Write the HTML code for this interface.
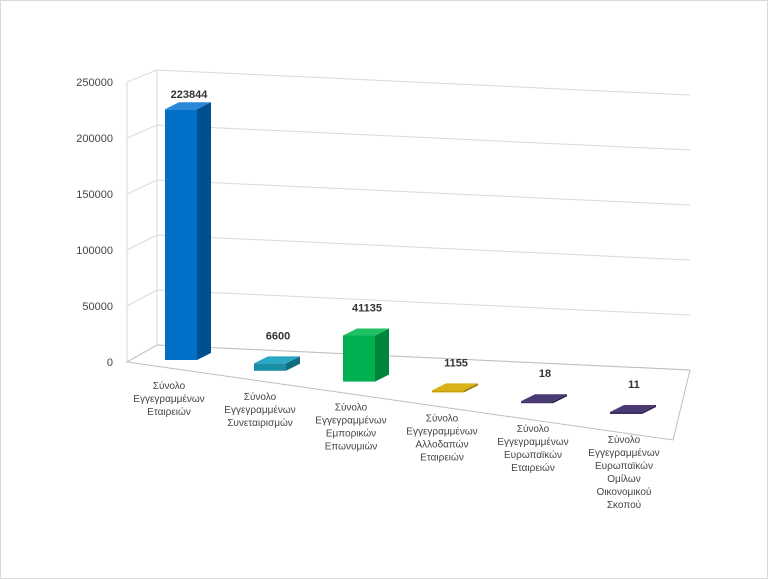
<!DOCTYPE html>
<html><head><meta charset="utf-8">
<style>
html,body{margin:0;padding:0;background:#fff;}
#wrap{position:relative;width:768px;height:579px;overflow:hidden;}
svg text{font-family:"Liberation Sans","DejaVu Sans",sans-serif;}
</style></head>
<body>
<div id="wrap">
<svg id="chart" width="768" height="579" viewBox="0 0 768 579">
<rect x="0.5" y="0.5" width="767" height="578" fill="#fff" stroke="#d9d9d9"/>
<g id="grid"></g>
<g id="bars"></g>
<g id="labels"></g>
</svg>
</div>
<script>
const categories = [
  ["Σύνολο","Εγγεγραμμένων","Εταιρειών"],
  ["Σύνολο","Εγγεγραμμένων","Συνεταιρισμών"],
  ["Σύνολο","Εγγεγραμμένων","Εμπορικών","Επωνυμιών"],
  ["Σύνολο","Εγγεγραμμένων","Αλλοδαπών","Εταιρειών"],
  ["Σύνολο","Εγγεγραμμένων","Ευρωπαϊκών","Εταιρειών"],
  ["Σύνολο","Εγγεγραμμένων","Ευρωπαϊκών","Ομίλων","Οικονομικού","Σκοπού"]
];
const values = [223844, 6600, 41135, 1155, 18, 11];
const yTicks = [0, 50000, 100000, 150000, 200000, 250000];
const yMax = 250000;

const NS = "http://www.w3.org/2000/svg";
function mk(tag, attrs, parent){const e=document.createElementNS(NS,tag);for(const k in attrs)e.setAttribute(k,attrs[k]);parent.appendChild(e);return e;}
const grid=document.getElementById('grid'), barsG=document.getElementById('bars'), labG=document.getElementById('labels');

// geometry
const FX=127, F0=362, F1=82;   // front axis
const BX=157, B0=345, B1=70;   // back wall left edge
const BR=690, slope=25/533;    // back wall right edge and slope
const pxPer=(F0-F1)/yMax;
function yFront(v){return F0-(F0-F1)*v/yMax;}
function yBack(v){return B0-(B0-B1)*v/yMax;}

// walls / gridlines
yTicks.forEach((t,i)=>{
  const yf=yFront(t), yb=yBack(t);
  const g=mk('polyline',{points:`${FX},${yf} ${BX},${yb} ${BR},${yb+(BR-BX)*slope}`,fill:'none',stroke:'#d9d9d9','stroke-width':1},grid);
  
  
  const tx=mk('text',{x:113,y:yf+4,'text-anchor':'end','font-size':11,fill:'#444'},labG);
  tx.textContent=t;
  
  
});
mk('line',{x1:FX,y1:F0,x2:FX,y2:F1,stroke:'#d9d9d9'},grid);
mk('line',{x1:BX,y1:B0,x2:BX,y2:B1,stroke:'#d9d9d9'},grid);
// floor
const fl=mk('polygon',{points:`${FX},${F0} ${BX},${B0} ${BR},${B0+(BR-BX)*slope} 673,440`,fill:'none',stroke:'#bfbfbf'},grid);



const colors=[["#0070c8","#004f8f","#2a86d6"],["#1b8fa8","#136b80","#2aa7c2"],["#00b050","#00863b","#1fc163"],["#c9a000","#9a7a00","#d9b21a"],["#3f2f66","#2c2048","#4a3a74"],["#3f2f66","#2c2048","#4a3a74"]];
const n=values.length;
const x0=165, x1=610, by0=360, by1=414;
const W=32, DX=14, DY=-7;
values.forEach((v,i)=>{
  const fx=x0+(x1-x0)*i/(n-1);
  const base=by0+(by1-by0)*i/(n-1);
  const h=Math.max(v*pxPer,2);
  const top=base-h;
  const c=colors[i];
  const g=mk('g',{},barsG);
  
  
  mk('polygon',{points:`${fx+W},${base} ${fx+W+DX},${base+DY} ${fx+W+DX},${top+DY} ${fx+W},${top}`,fill:c[1]},g);
  mk('polygon',{points:`${fx},${top} ${fx+W},${top} ${fx+W+DX},${top+DY} ${fx+DX},${top+DY}`,fill:c[2]},g);
  mk('rect',{x:fx,y:top,width:W,height:h,fill:c[0]},g);
  const vl=mk('text',{x:fx+W/2+8,y:Math.max(98,top-24),'text-anchor':'middle','font-size':11,'font-weight':'bold',fill:'#333'},labG);
  vl.textContent=v;
  
  
  const cx=fx+W/2-12+(i*2);
  const cy=base+29;
  const t=mk('text',{'text-anchor':'middle','font-size':10,fill:'#444'},labG);
  
  
  categories[i].forEach((line,j)=>{const s=mk('tspan',{x:cx,y:cy+j*13},t);s.textContent=line;});
});
</script>
</body></html>
